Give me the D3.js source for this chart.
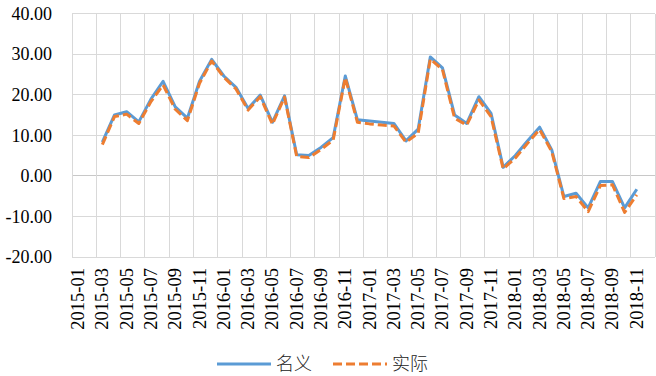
<!DOCTYPE html>
<html>
<head>
<meta charset="utf-8">
<script src="https://cdn.jsdelivr.net/npm/d3@7"></script>
<style>
  body { margin: 0; background: #fff; }
  svg { display: block; }
</style>
</head>
<body>
<svg id="chart" width="656" height="376"></svg>
<script>
const months = [
  "2015-01","2015-02","2015-03","2015-04","2015-05","2015-06","2015-07","2015-08","2015-09","2015-10","2015-11","2015-12",
  "2016-01","2016-02","2016-03","2016-04","2016-05","2016-06","2016-07","2016-08","2016-09","2016-10","2016-11","2016-12",
  "2017-01","2017-02","2017-03","2017-04","2017-05","2017-06","2017-07","2017-08","2017-09","2017-10","2017-11","2017-12",
  "2018-01","2018-02","2018-03","2018-04","2018-05","2018-06","2018-07","2018-08","2018-09","2018-10","2018-11","2018-12"
];

// 名义
const nominal = [
  null, null, 8.3, 15.0, 15.8, 13.3, 18.9, 23.3, 17.0, 14.2, 23.3, 28.7,
  24.6, 21.8, 16.6, 19.9, 13.2, 19.7, 5.2, 5.0, 7.0, 9.4, 24.6, 13.8,
  13.5, 13.2, 12.9, 8.6, 11.5, 29.3, 26.6, 15.0, 12.9, 19.5, 15.4, 2.1,
  5.0, 8.6, 12.0, 6.4, -5.1, -4.3, -7.9, -1.4, -1.4, -7.9, -3.3, null
];

// 实际
const real = [
  null, null, 7.7, 14.6, 15.2, 12.9, 18.3, 22.4, 16.4, 13.6, 22.8, 28.3,
  24.3, 21.4, 16.2, 19.5, 12.7, 19.4, 4.8, 4.5, 6.5, 8.8, 24.2, 13.2,
  12.8, 12.5, 12.3, 8.3, 10.5, 28.8, 26.2, 14.2, 12.5, 18.7, 14.6, 1.7,
  4.4, 8.0, 11.4, 6.0, -5.6, -5.1, -8.8, -2.4, -2.2, -9.0, -4.7, null
];

const yTicks = [-20, -10, 0, 10, 20, 30, 40];

const svg = d3.select('#chart');
const plotL = 72, plotR = 655, plotT = 13.5, plotB = 257;
const serifFont = "'Liberation Serif', 'DejaVu Serif', 'Noto Serif', Times, serif";

const x = d3.scaleBand().domain(months).range([plotL, plotR]).padding(0);
const y = d3.scaleLinear().domain([-20, 40]).range([plotB, plotT]);

// horizontal gridlines
svg.append('g')
  .selectAll('line')
  .data(yTicks)
  .enter().append('line')
  .attr('x1', plotL).attr('x2', plotR)
  .attr('y1', d => y(d)).attr('y2', d => y(d))
  .attr('stroke', d => d === 0 ? '#c8c8c8' : '#d9d9d9')
  .attr('stroke-width', 1)
  .attr('shape-rendering', 'crispEdges');

// vertical gridlines every 2 categories
const vIdx = d3.range(0, months.length + 1, 2);
svg.append('g')
  .selectAll('line')
  .data(vIdx)
  .enter().append('line')
  .attr('x1', i => i < months.length ? x(months[i]) : plotR)
  .attr('x2', i => i < months.length ? x(months[i]) : plotR)
  .attr('y1', plotT).attr('y2', plotB)
  .attr('stroke', '#d9d9d9')
  .attr('stroke-width', 1)
  .attr('shape-rendering', 'crispEdges');

// y labels
svg.append('g')
  .selectAll('text')
  .data(yTicks)
  .enter().append('text')
  .style('font-family', serifFont)
  .attr('x', 52)
  .attr('y', d => y(d))
  .attr('dy', '0.35em')
  .attr('text-anchor', 'end')
  .style('font-size', '18px')
  .attr('fill', '#000')
  .text(d => d.toFixed(2));

// x labels, every other month
svg.append('g')
  .selectAll('text')
  .data(months.filter((m, i) => i % 2 === 0))
  .enter().append('text')
  .style('font-family', serifFont)
  .attr('transform', d => `translate(${x(d) + x.bandwidth() / 2 + 6},268) rotate(-90)`)
  .attr('text-anchor', 'end')
  .style('font-size', '18.5px')
  .attr('fill', '#000')
  .text(d => d);

const line = vals => d3.line()
  .defined(d => d[1] !== null)
  .x(d => x(d[0]) + x.bandwidth() / 2)
  .y(d => y(d[1]))(months.map((m, i) => [m, vals[i]]));

svg.append('path')
  .attr('d', line(nominal))
  .attr('fill', 'none')
  .attr('stroke', '#5b9bd5')
  .attr('stroke-width', 3)
  .attr('stroke-linejoin', 'round');

svg.append('path')
  .attr('d', line(real))
  .attr('fill', 'none')
  .attr('stroke', '#ed7d31')
  .attr('stroke-width', 3)
  .attr('stroke-dasharray', '9,4')
  .attr('stroke-linejoin', 'round');

// legend
const legend = [
  {name: '名义', color: '#5b9bd5', dash: null, x0: 217},
  {name: '实际', color: '#ed7d31', dash: '9,4', x0: 333}
];
const lg = svg.append('g');
legend.forEach(l => {
  lg.append('line')
    .attr('x1', l.x0).attr('x2', l.x0 + 54)
    .attr('y1', 364).attr('y2', 364)
    .attr('stroke', l.color)
    .attr('stroke-width', 3)
    .attr('stroke-dasharray', l.dash);
  lg.append('text')
    .style('font-family', "'Noto Sans CJK SC', sans-serif")
    .attr('x', l.x0 + 59)
    .attr('y', 364)
    .attr('dy', '0.36em')
    .attr('font-weight', 300)
    .style('font-size', '18px')
    .attr('fill', '#222')
    .text(l.name);
});
</script>
</body>
</html>
